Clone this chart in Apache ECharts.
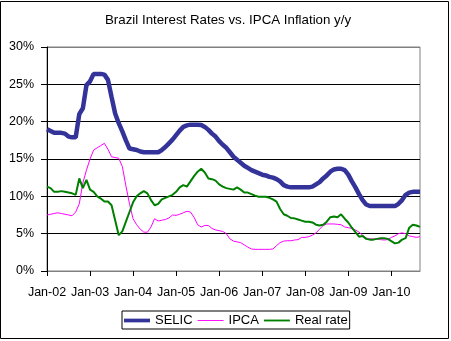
<!DOCTYPE html>
<html>
<head>
<meta charset="utf-8">
<script src="https://cdn.jsdelivr.net/npm/echarts@6/dist/echarts.min.js"></script>
<style>
  html, body { margin: 0; padding: 0; background: #fff; }
  #chart { width: 451px; height: 341px; }
</style>
</head>
<body>
<div id="chart"></div>
<script>
// Monthly series, Jan 2002 .. Sep 2010 (percent)
const startYear = 2002;
const monthCount = 105;
const monthNames = ['Jan','Feb','Mar','Apr','May','Jun','Jul','Aug','Sep','Oct','Nov','Dec'];
const tickLabels = ['Jan-02','Jan-03','Jan-04','Jan-05','Jan-06','Jan-07','Jan-08','Jan-09','Jan-10'];

const selic = [
  19.0, 18.75, 18.5, 18.5, 18.5, 18.4, 18.0, 17.9, 17.9, 21.0, 21.8, 24.9,
  25.4, 26.4, 26.4, 26.4, 26.3, 25.6, 23.3, 21.1, 19.8, 18.7, 17.5, 16.4,
  16.3, 16.2, 16.0, 15.9, 15.9, 15.9, 15.9, 15.9, 16.2, 16.6, 17.1, 17.6,
  18.2, 18.8, 19.3, 19.5, 19.6, 19.6, 19.6, 19.55, 19.3, 18.9, 18.4, 18.0,
  17.4, 16.9, 16.5, 15.9, 15.3, 14.9, 14.5, 14.1, 13.8, 13.5, 13.3, 13.1,
  12.9, 12.8, 12.6, 12.5, 12.3, 12.0, 11.5, 11.3, 11.2, 11.2, 11.2, 11.2,
  11.2, 11.2, 11.3, 11.6, 11.9, 12.4, 12.8, 13.3, 13.6, 13.7, 13.7, 13.5,
  12.9, 12.0, 11.2, 10.3, 9.5, 8.9, 8.7, 8.7, 8.7, 8.7, 8.7, 8.7,
  8.7, 8.7, 9.0, 9.5, 10.2, 10.5, 10.6, 10.6, 10.6
];

const ipca = [
  7.5, 7.6, 7.7, 7.8, 7.7, 7.6, 7.5, 7.4, 7.9, 9.0, 11.8, 13.5,
  15.0, 16.2, 16.5, 16.8, 17.1, 16.3, 15.3, 15.2, 15.1, 14.0, 11.4, 9.0,
  7.0, 6.2, 5.6, 5.2, 5.2, 5.9, 7.0, 6.7, 6.8, 6.9, 7.1, 7.5,
  7.45, 7.6, 7.8, 8.0, 7.9, 7.2, 6.2, 5.9, 6.1, 6.1, 5.7, 5.5,
  5.4, 5.3, 5.0, 4.3, 4.0, 3.9, 3.8, 3.5, 3.2, 2.95, 2.9, 2.9,
  2.9, 2.9, 2.9, 2.95, 3.4, 3.8, 4.0, 4.05, 4.05, 4.15, 4.2, 4.5,
  4.5, 4.6, 4.8, 5.1, 5.6, 6.1, 6.3, 6.3, 6.3, 6.25, 6.2, 5.9,
  5.8, 5.7, 5.5, 5.2, 4.8, 4.4, 4.3, 4.3, 4.3, 4.2, 4.15, 4.2,
  4.5, 4.7, 5.0, 5.1, 5.0, 4.7, 4.6, 4.5, 4.6
];

const realRate = [
  11.3, 11.1, 10.6, 10.6, 10.7, 10.6, 10.5, 10.4, 10.2, 12.4, 11.1, 12.2,
  10.9, 10.6, 10.0, 9.7, 9.3, 9.3, 8.8, 6.8, 4.8, 5.3, 6.6, 7.9,
  9.2, 10.0, 10.4, 10.7, 10.4, 9.5, 8.8, 9.0, 9.6, 9.8, 10.0, 10.2,
  10.6, 11.2, 11.5, 11.3, 12.0, 12.7, 13.3, 13.7, 13.2, 12.4, 12.3, 12.1,
  11.6, 11.3, 11.1, 11.0, 10.9, 11.2, 10.9, 10.5, 10.5, 10.3, 10.1, 9.95,
  9.95, 9.95, 9.8, 9.6, 9.3, 8.3, 7.6, 7.4, 7.1, 7.05, 6.9, 6.75,
  6.6, 6.6, 6.5, 6.2, 6.1, 6.2, 6.6, 7.2, 7.3, 7.2, 7.6, 7.0,
  6.5, 5.8, 5.2, 4.6, 4.7, 4.3, 4.2, 4.2, 4.3, 4.4, 4.4, 4.3,
  4.0, 3.7, 3.8, 4.2, 4.4, 5.8, 6.2, 6.1, 5.9
];

// Category names "Mon-YY" for each month
const months = [];
for (let i = 0; i < monthCount; i++) {
  const y = startYear + Math.floor(i / 12);
  months.push(monthNames[i % 12] + '-' + String(y % 100).padStart(2, '0'));
}

const FONT = '"Liberation Sans", Arial, sans-serif';
const chart = echarts.init(document.getElementById('chart'), null, { renderer: 'canvas' });

chart.setOption({
  animation: false,
  backgroundColor: '#ffffff',
  title: {
    text: 'Brazil Interest Rates vs. IPCA Inflation y/y',
    left: 105,
    top: 14,
    padding: 0,
    textStyle: { fontFamily: FONT, fontSize: 13.3, fontWeight: 'normal', color: '#000000' }
  },
  graphic: [{
    type: 'rect',
    shape: { x: 0.5, y: 1.5, width: 448, height: 337 },
    style: { fill: null, stroke: '#000000', lineWidth: 1 },
    silent: true
  }],
  grid: {
    left: 47, top: 47, right: 31, bottom: 70,
    show: true, borderColor: '#808080', borderWidth: 1, backgroundColor: 'transparent'
  },
  legend: {
    left: 122, top: 311,
    padding: [3, 2, 2, 2],
    itemGap: 5,
    itemWidth: 26,
    itemHeight: 12,
    symbolKeepAspect: true,
    borderColor: '#000000', borderWidth: 1,
    textStyle: { fontFamily: FONT, fontSize: 13, color: '#000000' },
    data: [
      { name: 'SELIC', icon: 'path://M0,0H28V4H0Z' },
      { name: 'IPCA', icon: 'path://M0,0H28V1H0Z' },
      { name: 'Real rate', icon: 'path://M0,0H28V2H0Z' }
    ]
  },
  xAxis: {
    type: 'category',
    data: months,
    boundaryGap: false,
    axisLine: { show: true, lineStyle: { color: '#808080', width: 1 } },
    axisTick: {
      show: true, inside: false, length: 5, interval: 11,
      lineStyle: { color: '#000000' }
    },
    axisLabel: {
      interval: 11, margin: 15,
      fontFamily: FONT, fontSize: 12.5, color: '#000000',
      formatter: function (v) { return tickLabels.indexOf(v) >= 0 ? v : ''; }
    },
    splitLine: { show: false }
  },
  yAxis: {
    type: 'value',
    min: 0, max: 30, interval: 5,
    axisLine: { show: true, lineStyle: { color: '#000000', width: 1 } },
    axisTick: { show: true, inside: false, length: 6, lineStyle: { color: '#000000' } },
    axisLabel: {
      margin: 13, fontFamily: FONT, fontSize: 12.5, color: '#000000',
      formatter: '{value}%'
    },
    splitLine: {
      show: true,
      lineStyle: { color: ['#000000', '#000000', '#000000', '#000000', '#000000', '#000000', '#808080'], width: 1 }
    }
  },
  series: [
    {
      name: 'SELIC', type: 'line', data: selic,
      symbol: 'none', showSymbol: false,
      lineStyle: { color: '#333399', width: 4.5 },
      itemStyle: { color: '#333399' }
    },
    {
      name: 'IPCA', type: 'line', data: ipca,
      symbol: 'none', showSymbol: false,
      lineStyle: { color: '#ff00ff', width: 1 },
      itemStyle: { color: '#ff00ff' }
    },
    {
      name: 'Real rate', type: 'line', data: realRate,
      symbol: 'none', showSymbol: false,
      lineStyle: { color: '#008000', width: 2 },
      itemStyle: { color: '#008000' }
    }
  ]
});
</script>
</body>
</html>
